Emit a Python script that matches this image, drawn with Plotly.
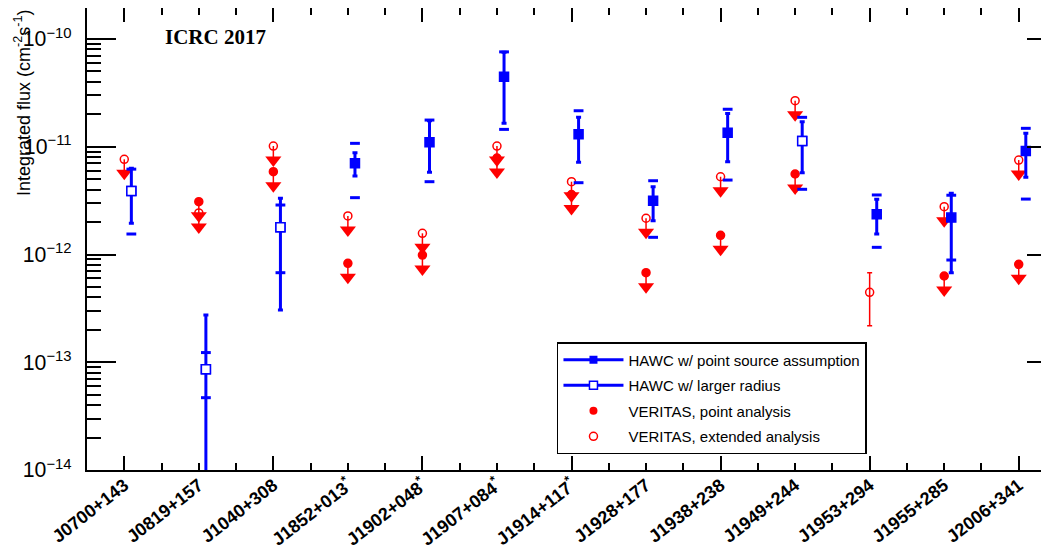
import plotly.graph_objects as go

# ---------------- data ----------------
sources = ["J0700+143", "J0819+157", "J1040+308", "J1852+013*", "J1902+048*",
           "J1907+084*", "J1914+117*", "J1928+177", "J1938+238", "J1949+244",
           "J1953+294", "J1955+285", "J2006+341"]

# HAWC integrated flux (cm^-2 s^-1)
hawc_flux = [3.88e-12, 8.6e-14, 1.79e-12, 7.02e-12, 1.10e-11, 4.47e-11, 1.31e-11,
             3.16e-12, 1.35e-11, 1.13e-11, 2.36e-12, 2.20e-12, 9.13e-12]
hawc_stat_hi = [6.31e-12, 2.74e-13, 3.32e-12, 8.81e-12, 1.745e-11, 7.53e-11, 1.876e-11,
                4.26e-12, 2.04e-11, 1.708e-11, 3.25e-12, 3.70e-12, 1.333e-11]
hawc_stat_lo = [1.95e-12, 5e-15, 3.05e-13, 5.35e-12, 5.79e-12, 1.65e-11, 7.17e-12,
                2.06e-12, 7.27e-12, 5.74e-12, 1.55e-12, 6.78e-13, 5.2e-12]
hawc_sys_hi = [6.2e-12, 1.23e-13, 2.88e-12, 1.076e-11, 1.77e-11, 7.6e-11, 2.16e-11,
               4.84e-12, 2.23e-11, 1.876e-11, 3.57e-12, 3.55e-12, 1.483e-11]
hawc_sys_lo = [1.55e-12, 4.69e-14, 6.78e-13, 3.37e-12, 4.74e-12, 1.45e-11, 4.64e-12,
               1.444e-12, 4.91e-12, 4.03e-12, 1.166e-12, 8.89e-13, 3.27e-12]
hawc_larger_radius = [True, True, True, False, False, False, False,
                      False, False, True, False, False, False]

# VERITAS upper limits
veritas_point_ul = [None, 3.09e-12, 5.87e-12, 8.29e-13, 9.89e-13, 7.86e-12, 3.60e-12,
                    6.78e-13, 1.507e-12, 5.59e-12, None, 6.32e-13, 8.11e-13]
veritas_ext_ul = [7.65e-12, 2.43e-12, 1.016e-11, 2.28e-12, 1.573e-12, 1.016e-11, 4.74e-12,
                  2.17e-12, 5.27e-12, 2.68e-11, None, 2.78e-12, 7.53e-12]

# VERITAS extended-analysis detection
detect_source = ["J1953+294"]
detect_flux = [4.46e-13]
detect_hi = [6.78e-13]
detect_lo = [2.18e-13]

# ---------------- style ----------------
BLUE = "#0000ff"
RED = "#ff0000"
FONT = "Liberation Sans"
HAWC_OFFSET = 0.095          # horizontal shift of HAWC points (category units)
ARROW = 10 ** (-0.13)        # upper-limit arrow length (log factor)

idx = {s: i for i, s in enumerate(sources)}
tick_text = [s.replace("*", "<sup>*</sup>") for s in sources]

fig = go.Figure()


def add_ul(values, symbol):
    xs = [i for i, v in enumerate(values) if v is not None]
    ys = [v for v in values if v is not None]
    tips = [v * ARROW for v in ys]
    fig.add_trace(go.Scatter(
        x=xs, y=ys, mode="markers", showlegend=False, hoverinfo="skip",
        marker=dict(symbol=symbol, size=8, color=RED, line=dict(color=RED, width=1.5)),
        error_y=dict(type="data", symmetric=False, array=[0] * len(ys),
                     arrayminus=[v - t for v, t in zip(ys, tips)],
                     color=RED, thickness=1.5, width=0)))
    fig.add_trace(go.Scatter(
        x=xs, y=tips, mode="markers", showlegend=False, hoverinfo="skip",
        marker=dict(symbol="triangle-down", size=14, color=RED, line=dict(width=0))))


add_ul(veritas_ext_ul, "circle-open")
add_ul(veritas_point_ul, "circle")

# detection
fig.add_trace(go.Scatter(
    x=[idx[s] for s in detect_source], y=detect_flux, mode="markers",
    showlegend=False, hoverinfo="skip",
    marker=dict(symbol="circle-open", size=8, color=RED, line=dict(color=RED, width=1.5)),
    error_y=dict(type="data", symmetric=False,
                 array=[h - f for h, f in zip(detect_hi, detect_flux)],
                 arrayminus=[f - l for f, l in zip(detect_flux, detect_lo)],
                 color=RED, thickness=1.5, width=2.5)))

# HAWC
for larger in (False, True):
    sel = [i for i in range(len(sources)) if hawc_larger_radius[i] == larger]
    xs = [i + HAWC_OFFSET for i in sel]
    fig.add_trace(go.Scatter(
        x=xs + xs, y=[hawc_sys_hi[i] for i in sel] + [hawc_sys_lo[i] for i in sel],
        mode="markers", showlegend=False, hoverinfo="skip",
        marker=dict(symbol="line-ew", size=7, color=BLUE, line=dict(color=BLUE, width=3))))
    fig.add_trace(go.Scatter(
        x=xs, y=[hawc_flux[i] for i in sel], mode="markers",
        showlegend=False, hoverinfo="skip",
        marker=dict(symbol="square", size=9,
                    color="white" if larger else BLUE,
                    line=dict(color=BLUE, width=1.5)),
        error_y=dict(type="data", symmetric=False,
                     array=[hawc_stat_hi[i] - hawc_flux[i] for i in sel],
                     arrayminus=[hawc_flux[i] - hawc_stat_lo[i] for i in sel],
                     color=BLUE, thickness=3, width=2.5)))
    if larger:
        fig.add_trace(go.Scatter(
            x=xs, y=[hawc_flux[i] for i in sel], mode="markers",
            showlegend=False, hoverinfo="skip",
            marker=dict(symbol="square", size=9, color="white",
                        line=dict(color=BLUE, width=1.5))))

# legend entries
fig.add_trace(go.Scatter(x=[None], y=[None], mode="lines+markers",
                         name="HAWC w/ point source assumption", legendgroup="a",
                         line=dict(color=BLUE, width=3),
                         marker=dict(symbol="square", size=8, color=BLUE)))
fig.add_trace(go.Scatter(x=[None], y=[None], mode="lines+markers",
                         name="HAWC w/ larger radius", legendgroup="b",
                         line=dict(color=BLUE, width=3),
                         marker=dict(symbol="square", size=8, color="white",
                                     line=dict(color=BLUE, width=1.5))))
fig.add_trace(go.Scatter(x=[None], y=[None], mode="markers",
                         name="VERITAS, point analysis", legendgroup="c",
                         marker=dict(symbol="circle", size=8, color=RED)))
fig.add_trace(go.Scatter(x=[None], y=[None], mode="markers",
                         name="VERITAS, extended analysis", legendgroup="d",
                         marker=dict(symbol="circle-open", size=8, color=RED,
                                     line=dict(color=RED, width=1.5))))

# dummy traces for the secondary tick axes
fig.add_trace(go.Scatter(x=[None], y=[None], xaxis="x2", yaxis="y",
                         showlegend=False, hoverinfo="skip"))
fig.add_trace(go.Scatter(x=[None], y=[None], xaxis="x", yaxis="y2",
                         showlegend=False, hoverinfo="skip"))

XR = [-0.5, 12.5]
YR = [-14, -9.712]

fig.update_layout(
    width=1049, height=556,
    margin=dict(l=79, r=1, t=0, b=94, pad=0, autoexpand=False),
    paper_bgcolor="white", plot_bgcolor="white",
    font=dict(family=FONT, color="black"),
    xaxis=dict(range=XR, tickmode="array", tickvals=list(range(len(sources))),
               ticktext=tick_text, tickangle=-38, automargin=False,
               tickfont=dict(family=FONT, size=18, color="black", weight="bold"),
               ticks="inside", ticklen=7, tickwidth=1.5, tickcolor="black",
               minor=dict(tickmode="linear", tick0=0.5, dtick=1, ticks="inside",
                          ticklen=7, tickwidth=1.5, tickcolor="black"),
               showline=True, linecolor="black", linewidth=2, mirror="allticks",
               showgrid=False, zeroline=False, ticklabelstandoff=-4),
    xaxis2=dict(range=XR, overlaying="x", anchor="y", side="bottom",
                tickmode="array", tickvals=list(range(0, len(sources), 2)),
                ticks="inside", ticklen=14, tickwidth=1.5, tickcolor="black",
                showticklabels=False, showline=False, showgrid=False,
                zeroline=False, mirror="ticks", automargin=False),
    yaxis=dict(type="log", range=YR, tickmode="linear", tick0=0, dtick=1,
               exponentformat="power", automargin=False,
               tickfont=dict(family=FONT, size=17, color="black"),
               ticks="inside", ticklen=29, tickwidth=1.5, tickcolor="black",
               minor=dict(ticks="inside", ticklen=14, tickwidth=1.5,
                          tickcolor="black", dtick="D1"),
               showline=True, linecolor="black", linewidth=2,
               showgrid=False, zeroline=False, ticklabelstandoff=10),
    yaxis2=dict(type="log", range=YR, overlaying="y", anchor="x", side="right",
                tickmode="linear", tick0=0, dtick=1, automargin=False,
                ticks="inside", ticklen=29, tickwidth=1.5, tickcolor="black",
                minor=dict(ticks="inside", ticklen=14, tickwidth=1.5,
                           tickcolor="black", dtick="D1"),
                showticklabels=False, showline=True, linecolor="black", linewidth=2,
                showgrid=False, zeroline=False),
    legend=dict(x=0.485, y=0.277, xanchor="left", yanchor="top",
                bgcolor="white", bordercolor="black", borderwidth=1.5,
                font=dict(family=FONT, size=15, color="black"),
                tracegroupgap=3, itemwidth=60),
    showlegend=True,
    annotations=[
        dict(text="Integrated flux (cm<sup>-2</sup>s<sup>-1</sup>)",
             xref="paper", yref="paper", x=-0.0671, y=1.0, xanchor="center",
             yanchor="top", textangle=-90, showarrow=False,
             font=dict(family=FONT, size=18, color="black")),
        dict(text="<b>ICRC 2017</b>", xref="paper", yref="paper",
             x=0.0784, y=0.937, xanchor="left", yanchor="middle", showarrow=False,
             font=dict(family="Liberation Serif", size=21, color="black")),
    ],
)

fig.write_html("out.html")
